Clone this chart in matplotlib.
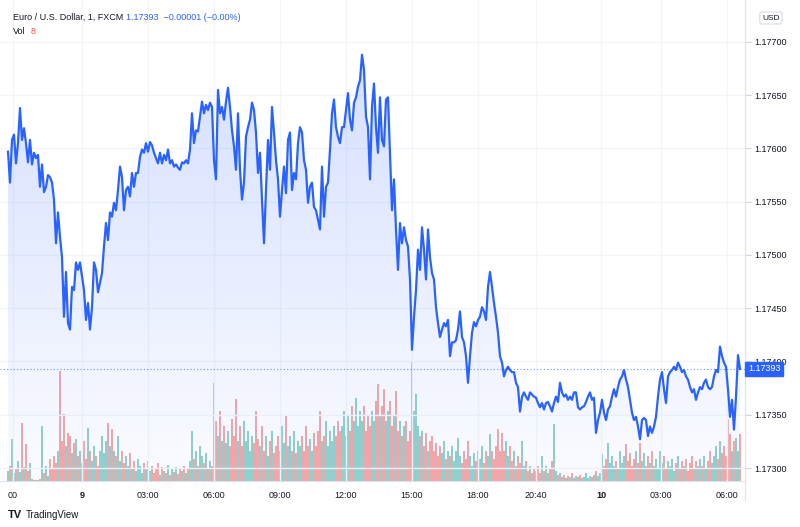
import numpy as np
import matplotlib.pyplot as plt
from matplotlib.patches import Polygon
from matplotlib.lines import Line2D
import matplotlib.transforms as mtransforms

plt.rcParams['font.family'] = ['Liberation Sans', 'DejaVu Sans']

# EUR/USD 1-minute closes, sampled along the chart (in 1e-5 above 1.17000)
close_pts = [
    # 21:00 -> 02:00
    597, 568, 608, 613, 586, 605, 638, 608, 619, 605, 587, 608, 585, 596, 591, 594, 564, 585, 559, 564,
    575, 573, 568, 552, 511, 540, 517, 498, 442, 484, 436, 430, 470, 467, 493, 486, 493, 480, 467, 439,
    455, 430, 451, 493, 486, 465, 474, 483, 508, 530, 514, 540, 536, 549, 542, 561, 583, 573, 542, 561, 564,
    # 02:00 -> 07:40
    555, 577, 564, 577, 577, 592, 599, 596, 605, 597, 606, 603, 596, 591, 586, 596, 586, 594, 589, 599,
    586, 589, 583, 585, 582, 580, 587, 586, 589, 586, 599, 633, 605, 617, 616, 630, 644, 633, 641, 636,
    643, 639, 589, 571, 655, 633, 639, 627, 644, 657, 639, 617, 602, 580, 633, 580, 552, 568, 611, 620,
    627, 643, 636,
    # 07:40 -> 13:40
    615, 577, 596, 552, 511, 561, 608, 580, 639, 615, 589, 571, 536, 561, 583, 558, 608, 615, 561, 577,
    571, 605, 620, 615, 589, 580, 549, 564, 568, 545, 542, 533, 524, 583, 536, 564, 568, 599, 633, 646,
    620, 611, 605, 620, 620, 636, 652, 627, 617, 643, 648, 658, 664, 688, 674, 630, 620, 571, 639, 661,
    620, 596, 648, 608, 602, 646, 648,
    # 13:40 -> 19:40
    596, 542, 571, 524, 486, 530, 511, 526, 514, 508, 477, 411, 442, 467, 505, 486, 526, 505, 477, 524,
    498, 483, 477, 451, 436, 423, 430, 436, 433, 439, 405, 418, 418, 420, 430, 447, 423, 418, 405, 380,
    405, 427, 437, 433, 439, 442, 451, 447, 439, 470, 484, 470, 455, 442, 427, 405, 399, 386, 392, 395,
    392, 390, 390, 380, 376, 353, 367,
    # 19:40 -> 06:40 next day
    371, 367, 364, 371, 369, 367, 366, 361, 357, 361, 355, 361, 362, 358, 353, 361, 367, 362, 380, 371,
    367, 369, 364, 367, 364, 371, 371, 357, 355, 357, 358, 362, 367, 371, 364, 366, 333, 345, 352, 364,
    352, 345, 355, 358, 367, 374, 367, 376, 383, 386, 392, 383, 376, 364, 352, 345, 348, 339, 327, 345,
    347, 345, 330, 339, 333, 339, 348, 367, 383, 390, 374, 361, 386, 390, 392, 395, 392, 399, 395, 390,
    392, 386, 383, 376, 371, 374, 364, 371, 376, 374, 380, 383, 376, 374, 376, 386, 392, 390, 414, 405,
    399, 395, 374, 348, 364, 336, 367, 406, 393,
]

volume = [
    10, 15, 42, 8, 12, 20, 9, 58, 14, 37, 10, 18,
    2, 1, 1, 1, 2,
    55, 8, 15, 5, 22, 12, 25, 18,
    30, 110, 40, 67, 35, 48, 45, 28, 38, 42,
    25, 30, 18, 40, 22, 53, 30, 20, 35, 25, 15, 30,
    45, 28, 40, 58, 35, 52, 30, 25, 45, 20,
    30, 18, 25, 15, 28, 12, 20, 10, 22, 15, 8, 18, 12, 20, 10,
    15, 8, 12, 18, 6, 14, 10, 8, 16, 6, 12, 9, 14, 7, 12, 10, 15, 8, 12, 20,
    50, 22, 30, 15, 35, 25, 18, 28, 12, 20, 15,
    98, 60, 45, 70, 40, 55, 38, 50, 35, 62, 45, 82, 40, 55,
    35, 60, 40, 50, 30, 45, 38, 70, 42, 35, 55, 30, 45, 25, 40, 50, 28, 35, 45, 30,
    55, 38, 65, 35, 45, 30, 50, 28, 40, 35,
    45, 30, 55, 35, 42, 30, 48, 35, 50, 70, 40, 45, 60, 35, 50, 40, 55, 45, 60, 50,
    55, 70, 45, 65, 50, 75, 60, 83, 55, 70, 60, 75, 50, 65, 55, 70, 60, 80, 97, 65,
    75, 92, 60, 70, 80, 55, 65, 90, 50, 60, 45, 55, 60, 40, 50,
    120, 70, 87, 55, 45, 50, 35, 48, 30, 40, 45, 30, 38, 25, 35, 28, 40, 22, 30, 25,
    35, 20, 30, 43, 25, 18, 30, 22, 40, 25, 15, 28, 20, 30, 22, 35, 18, 30, 25, 47, 30, 22, 35, 52, 30,
    48, 30, 40, 25, 35, 20, 30, 15, 25, 18, 40, 15, 20, 10, 15, 8, 12, 10, 15, 8,
    25, 10, 15, 8, 12, 20, 57, 10, 6, 8, 4, 6, 3, 5, 4, 8, 3, 5, 4, 6, 3, 4, 8, 3, 5, 4, 6, 10, 5, 8,
    27, 15, 22, 38, 18, 25, 15, 20, 12, 30, 18, 25, 37, 20, 28, 15, 22, 30, 18, 38,
    20, 28, 15, 25, 18, 30, 15, 22, 12, 30, 18, 25, 12, 20, 15, 22, 10, 18, 25, 12, 20, 15, 22, 10, 18,
    25, 12, 20, 15, 22,
    15, 25, 12, 20, 30, 18, 25, 35, 22, 40, 28, 35, 25, 62, 47, 30, 40, 43, 30, 47,
]

tick_pos = [2.5, 37, 70, 103, 136, 169, 202, 235, 264, 296.5, 326.5, 359.5]
tick_lbl = ["00", "9", "03:00", "06:00", "09:00", "12:00", "15:00", "18:00", "20:40", "10", "03:00", "06:00"]
price_ticks = [1.17300, 1.17350, 1.17400, 1.17450, 1.17500, 1.17550, 1.17600, 1.17650, 1.17700]
last_price = 1.17393

close = 1.17 + np.array(close_pts) * 1e-5
x = np.arange(len(close))
ymin, ymax = 1.172878, 1.177394

blue = '#2962FF'
fig = plt.figure(figsize=(8, 5.27), dpi=100)
rect = [0, 1 - 481 / 527, 745 / 800, 481 / 527]

# volume pane underneath
vax = fig.add_axes(rect)
vax.set_xlim(-4, 368.5)
vax.set_ylim(0, 481)
up = np.r_[True, np.diff(close) >= 0]
vcol = np.where(up, '#26a69a', '#ef5350')
vax.bar(x, volume, width=0.55, color=vcol, alpha=0.5, linewidth=0)
vax.axis('off')

ax = fig.add_axes(rect)
ax.patch.set_visible(False)

for p in price_ticks:
    ax.axhline(p, color='#f3f5fa', lw=1, zorder=0)
for t in tick_pos:
    ax.axvline(t, color='#f3f5fa', lw=1, zorder=0)

# gradient area under the line
verts = list(zip(x, close)) + [(x[-1], ymin), (x[0], ymin)]
poly = Polygon(verts, closed=True, facecolor='none', edgecolor='none')
ax.add_patch(poly)
n = 256
grad = np.zeros((n, 1, 4))
grad[..., 0] = 41 / 255
grad[..., 1] = 98 / 255
grad[..., 2] = 1.0
grad[:, 0, 3] = np.linspace(0.22, 0.02, n)
im = ax.imshow(grad, extent=[x[0], x[-1], ymin, ymax], aspect='auto', origin='upper', zorder=1)
im.set_clip_path(poly)

ax.plot(x, close, color=blue, lw=1.6, zorder=3, solid_joinstyle='round')
ax.axhline(last_price, color=blue, lw=0.8, ls=(0, (1, 2)), alpha=0.7, zorder=2)

ax.set_xlim(-4, 368.5)
ax.set_ylim(ymin, ymax)

ax.yaxis.tick_right()
ax.set_yticks(price_ticks)
ax.set_yticklabels([f"{p:.5f}" for p in price_ticks])
ax.tick_params(axis='y', length=4, color='#d1d4dc', labelsize=6.5, labelcolor='#131722', pad=3)
ax.set_xticks(tick_pos)
ax.set_xticklabels(tick_lbl)
ax.tick_params(axis='x', length=0, labelsize=6.5, labelcolor='#131722', pad=7)
for lab in ax.get_xticklabels():
    if lab.get_text() in ("9", "10"):
        lab.set_fontweight('bold')
for s in ['top', 'left']:
    ax.spines[s].set_visible(False)
ax.spines['right'].set_color('#e0e3eb')
ax.spines['bottom'].set_color('#e0e3eb')
fig.add_artist(Line2D([745 / 800, 745 / 800], [1 - 500 / 527, 1 - 481 / 527], color='#e0e3eb', lw=0.8))

# last price tag
trans = mtransforms.blended_transform_factory(ax.transAxes, ax.transData)
ax.text(1.004, last_price, "1.17393", transform=trans, color='white', fontsize=6.5,
        va='center', ha='left', zorder=10,
        bbox=dict(boxstyle='square,pad=0.3', facecolor=blue, edgecolor=blue))

# header
fig.text(13 / 800, 1 - 17 / 527, "Euro / U.S. Dollar, 1, FXCM", fontsize=6.5, color='#131722', va='center')
fig.text(126 / 800, 1 - 17 / 527, "1.17393  \u22120.00001 (\u22120.00%)", fontsize=6.5, color=blue, va='center')
fig.text(13 / 800, 1 - 31 / 527, "Vol", fontsize=6.5, color='#131722', va='center')
fig.text(31 / 800, 1 - 31 / 527, "8", fontsize=6.5, color='#ef5350', va='center')

# currency badge
fig.text(771 / 800, 1 - 18 / 527, "USD", fontsize=6, color='#131722', ha='center', va='center',
         bbox=dict(boxstyle='round,pad=0.3,rounding_size=0.3', facecolor='white', edgecolor='#e0e3eb'))

# logo
fig.text(8 / 800, 1 - 515 / 527, "TV", fontsize=8, fontweight='bold', color='#131722', va='center')
fig.text(26 / 800, 1 - 515 / 527, "TradingView", fontsize=7, color='#131722', va='center')

fig.savefig("out.png", dpi=100)
